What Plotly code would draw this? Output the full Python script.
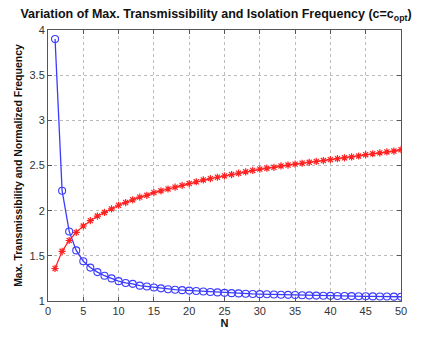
import plotly.graph_objects as go

N = list(range(1, 51))
max_trans = [3.90, 2.22, 1.77, 1.56, 1.44, 1.37, 1.32, 1.28, 1.25, 1.22,
             1.20, 1.19, 1.17, 1.16, 1.15, 1.14, 1.13, 1.125, 1.12, 1.115,
             1.11, 1.105, 1.10, 1.095, 1.09, 1.087, 1.084, 1.081, 1.078, 1.076,
             1.074, 1.072, 1.070, 1.068, 1.066, 1.064, 1.062, 1.060, 1.058, 1.057,
             1.056, 1.055, 1.054, 1.053, 1.052, 1.051, 1.050, 1.049, 1.048, 1.047]
iso_freq = [1.36, 1.55, 1.67, 1.76, 1.83, 1.89, 1.94, 1.98, 2.02, 2.06,
            2.09, 2.12, 2.15, 2.17, 2.20, 2.22, 2.24, 2.26, 2.28, 2.30,
            2.32, 2.34, 2.355, 2.37, 2.385, 2.40, 2.415, 2.43, 2.445, 2.46,
            2.47, 2.48, 2.495, 2.505, 2.515, 2.525, 2.535, 2.545, 2.555, 2.565,
            2.575, 2.585, 2.595, 2.605, 2.62, 2.63, 2.64, 2.65, 2.66, 2.675]

fig = go.Figure()
fig.add_trace(go.Scatter(x=N, y=max_trans, mode="lines+markers",
                         line=dict(color="#3a3aff", width=1.3),
                         marker=dict(symbol="circle-open", size=7, color="#3a3aff",
                                     line=dict(width=1.1))))
fig.add_trace(go.Scatter(x=N, y=iso_freq, mode="lines+markers",
                         line=dict(color="#ff2020", width=1.2),
                         marker=dict(symbol="asterisk-open", size=6, color="#ff2020",
                                     line=dict(width=1.2, color="#ff2020"))))

axis_common = dict(showline=True, linecolor="#555", linewidth=1, mirror="ticks",
                   ticks="inside", ticklen=4, tickcolor="#555",
                   showgrid=True, gridcolor="#bbb", griddash="dot", gridwidth=1,
                   zeroline=False, tickfont=dict(family="Liberation Sans, Arial", size=11, color="#333"))

fig.update_layout(
    width=432, height=339,
    margin=dict(l=48, r=31, t=30, b=33),
    paper_bgcolor="white", plot_bgcolor="white",
    showlegend=False,
    title=dict(text="<b>Variation of Max. Transmissibility and Isolation Frequency (c=c<sub>opt</sub>)</b>",
               x=0.5, xanchor="center", y=0.96, yanchor="middle",
               font=dict(family="Liberation Sans, Arial", size=12.5, color="#111")),
    xaxis=dict(range=[0, 50], tickvals=list(range(0, 51, 5)),
               title=dict(text="<b>N</b>", standoff=2,
                          font=dict(family="Liberation Sans, Arial", size=11, color="#111")),
               **axis_common),
    yaxis=dict(range=[1, 4], tickvals=[1, 1.5, 2, 2.5, 3, 3.5, 4],
               ticktext=["1", "1.5", "2", "2.5", "3", "3.5", "4"],
               title=dict(text="<b>Max. Transmissibility and Normalized Frequency</b>", standoff=4,
                          font=dict(family="Liberation Sans, Arial", size=10.5, color="#111")),
               **axis_common),
)

fig.write_html("out.html")
